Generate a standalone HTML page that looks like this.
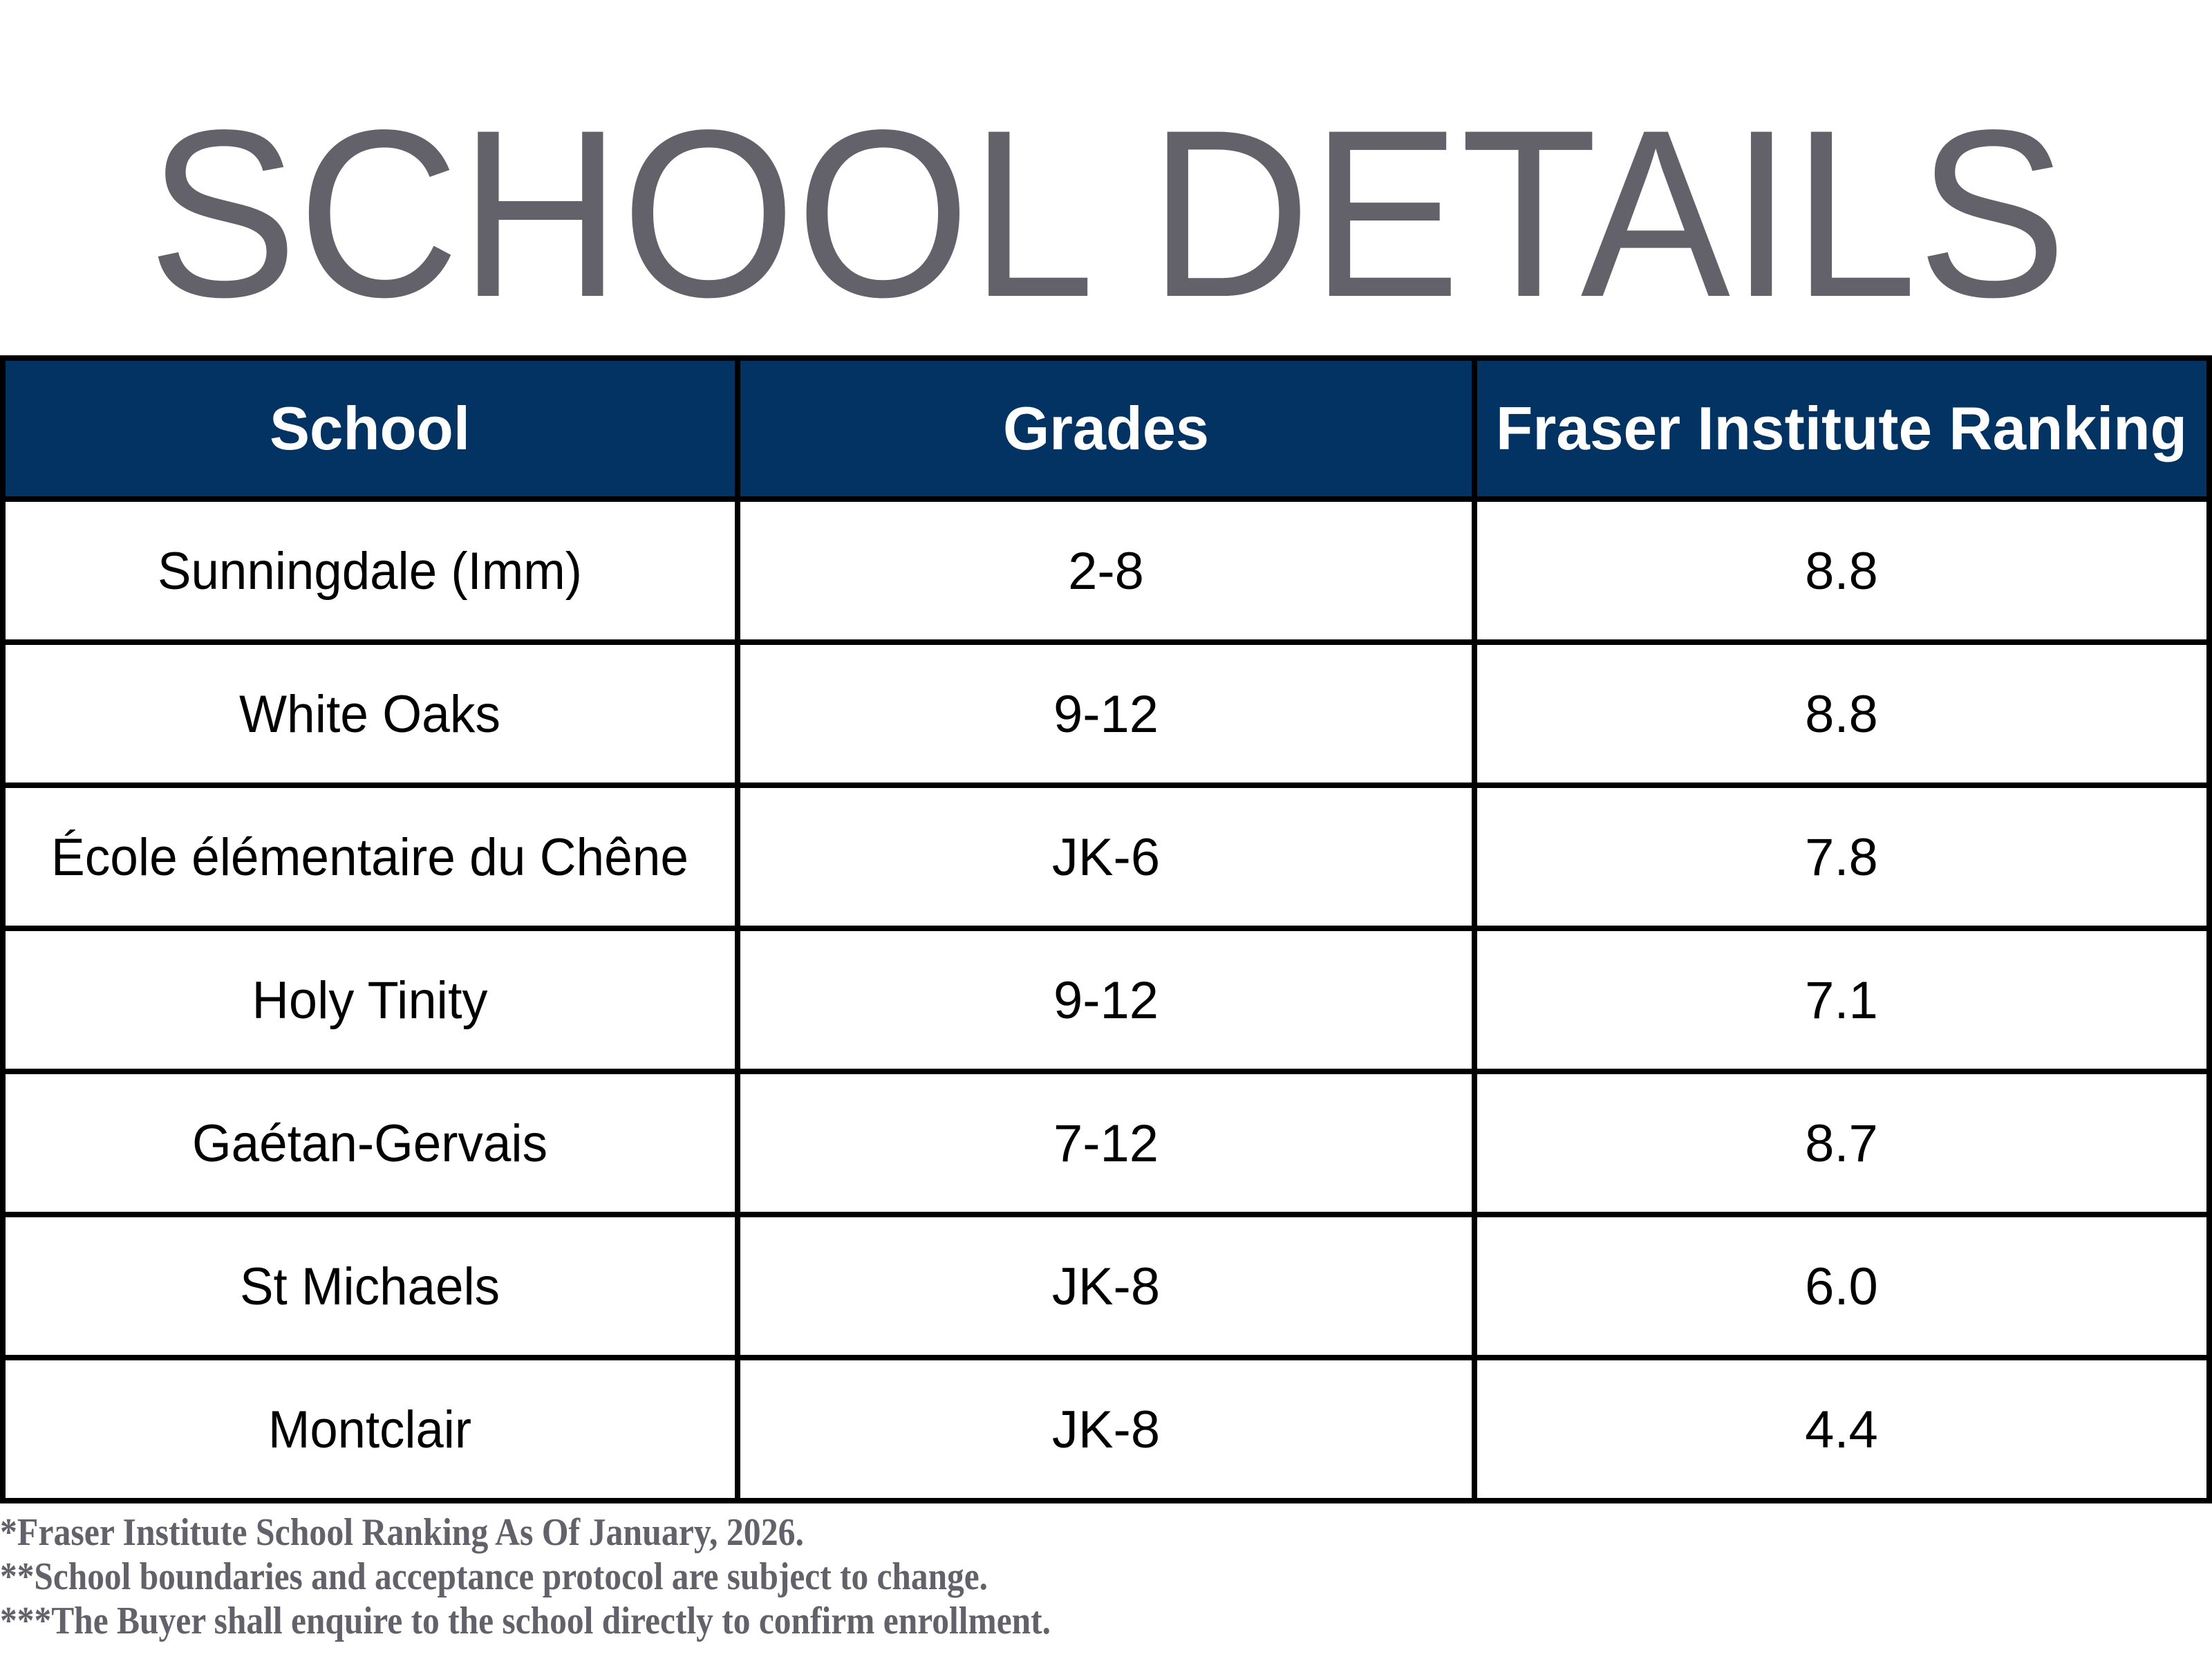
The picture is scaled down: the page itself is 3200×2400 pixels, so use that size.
<!DOCTYPE html>
<html><head><meta charset="utf-8"><style>
html,body{margin:0;padding:0;background:#fff;}
svg{display:block;}
</style></head><body>
<svg width="3200" height="2400" viewBox="0 0 3200 2400" xmlns="http://www.w3.org/2000/svg">
<rect width="3200" height="2400" fill="#fff"/>
<text x="214" y="428" font-family="Liberation Sans, sans-serif" font-size="345" fill="#636169" textLength="2776" lengthAdjust="spacingAndGlyphs">SCHOOL DETAILS</text>
<rect x="4" y="518" width="3192" height="204" fill="#023362"/>
<g stroke="#000" stroke-width="8">
<line x1="0" y1="518" x2="3200" y2="518"/>
<line x1="0" y1="722" x2="3200" y2="722"/>
<line x1="0" y1="929" x2="3200" y2="929"/>
<line x1="0" y1="1136" x2="3200" y2="1136"/>
<line x1="0" y1="1343" x2="3200" y2="1343"/>
<line x1="0" y1="1550" x2="3200" y2="1550"/>
<line x1="0" y1="1757" x2="3200" y2="1757"/>
<line x1="0" y1="1964" x2="3200" y2="1964"/>
<line x1="0" y1="2171" x2="3200" y2="2171"/>
<line x1="4" y1="514" x2="4" y2="2175"/>
<line x1="3196" y1="514" x2="3196" y2="2175"/>
<line x1="1067" y1="514" x2="1067" y2="2175"/>
<line x1="2133" y1="514" x2="2133" y2="2175"/>
</g>
<g font-family="Liberation Sans, sans-serif" font-weight="bold" font-size="88" fill="#fff" text-anchor="middle">
<text x="535" y="650" textLength="290" lengthAdjust="spacingAndGlyphs">School</text>
<text x="1600" y="650" textLength="298" lengthAdjust="spacingAndGlyphs">Grades</text>
<text x="2664" y="650" textLength="1000" lengthAdjust="spacingAndGlyphs">Fraser Institute Ranking</text>
</g>
<g font-family="Liberation Sans, sans-serif" font-size="76" fill="#000" text-anchor="middle">
<text x="535" y="852" textLength="614" lengthAdjust="spacingAndGlyphs">Sunningdale (Imm)</text>
<text x="1600" y="852">2-8</text><text x="2664" y="852">8.8</text>
<text x="535" y="1059" textLength="378" lengthAdjust="spacingAndGlyphs">White Oaks</text>
<text x="1600" y="1059">9-12</text><text x="2664" y="1059">8.8</text>
<text x="535" y="1266" textLength="922" lengthAdjust="spacingAndGlyphs">École élémentaire du Chêne</text>
<text x="1600" y="1266">JK-6</text><text x="2664" y="1266">7.8</text>
<text x="535" y="1473" textLength="341" lengthAdjust="spacingAndGlyphs">Holy Tinity</text>
<text x="1600" y="1473">9-12</text><text x="2664" y="1473">7.1</text>
<text x="535" y="1680" textLength="514" lengthAdjust="spacingAndGlyphs">Gaétan-Gervais</text>
<text x="1600" y="1680">7-12</text><text x="2664" y="1680">8.7</text>
<text x="535" y="1887" textLength="376" lengthAdjust="spacingAndGlyphs">St Michaels</text>
<text x="1600" y="1887">JK-8</text><text x="2664" y="1887">6.0</text>
<text x="535" y="2094" textLength="294" lengthAdjust="spacingAndGlyphs">Montclair</text>
<text x="1600" y="2094">JK-8</text><text x="2664" y="2094">4.4</text>
</g>
<g font-family="Liberation Serif, serif" font-weight="bold" font-size="56" fill="#636169">
<text x="0" y="2235" textLength="1163" lengthAdjust="spacingAndGlyphs">*Fraser Institute School Ranking  As Of  January, 2026.</text>
<text x="0" y="2299" textLength="1429" lengthAdjust="spacingAndGlyphs">**School boundaries and acceptance protocol are subject to change.</text>
<text x="0" y="2363" textLength="1520" lengthAdjust="spacingAndGlyphs">***The Buyer shall enquire to the school directly to confirm enrollment.</text>
</g>
</svg>
</body></html>
